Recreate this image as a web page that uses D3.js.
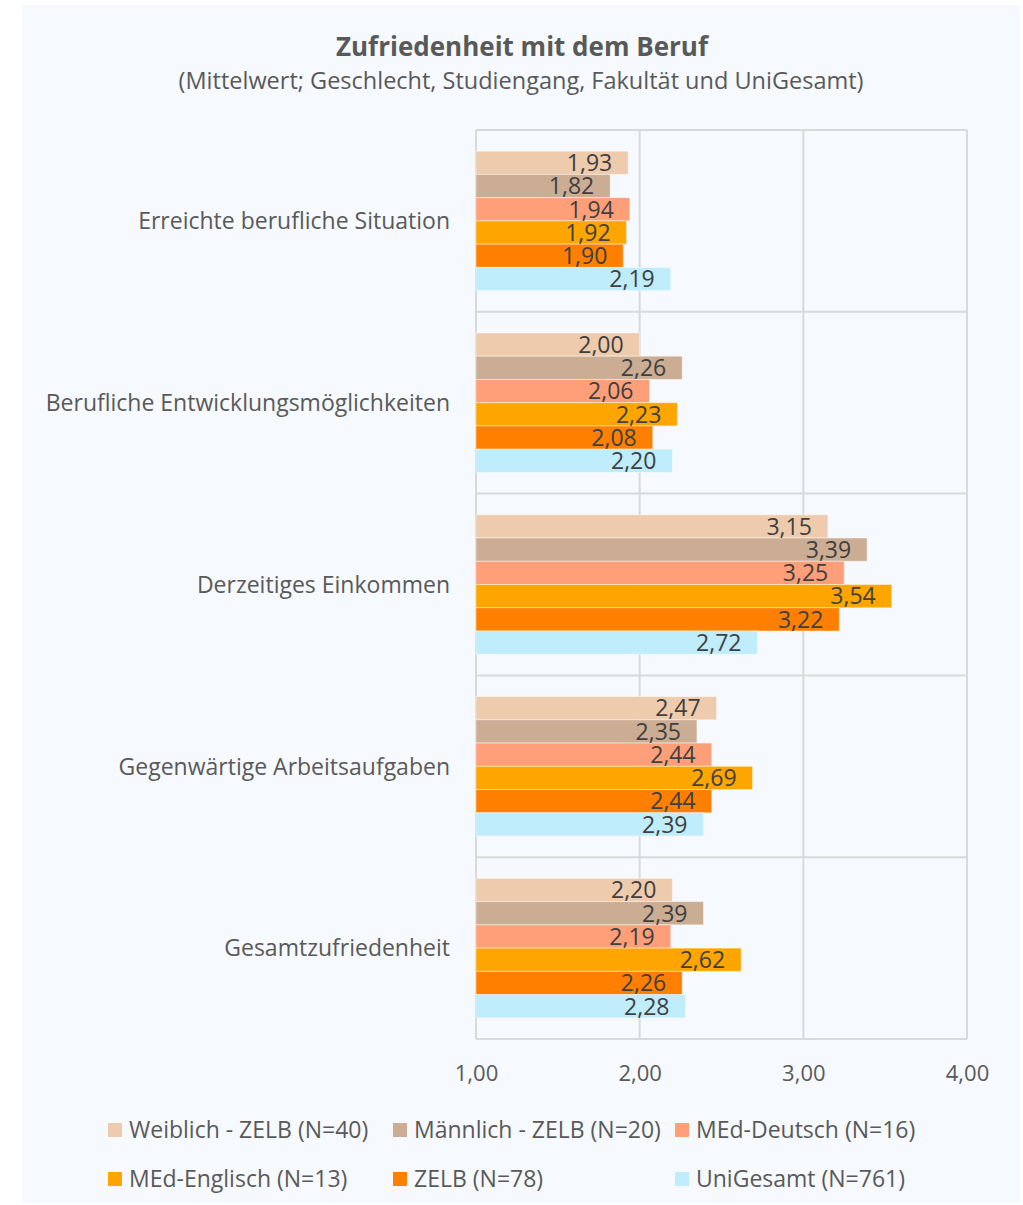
<!DOCTYPE html>
<html>
<head>
<meta charset="utf-8">
<script src="https://cdn.jsdelivr.net/npm/d3@7"></script>
<style>
  html, body { margin: 0; padding: 0; background: #ffffff; }
  svg text { font-family: "Open Sans", "Noto Sans", sans-serif; }
</style>
</head>
<body>
<svg id="chart" width="1023" height="1205"></svg>
<script>
// Survey categories (top to bottom)
const categories = [
  "Erreichte berufliche Situation",
  "Berufliche Entwicklungsmöglichkeiten",
  "Derzeitiges Einkommen",
  "Gegenwärtige Arbeitsaufgaben",
  "Gesamtzufriedenheit"
];

// Group names as shown in the legend
const seriesNames = [
  "Weiblich - ZELB (N=40)",
  "Männlich - ZELB (N=20)",
  "MEd-Deutsch (N=16)",
  "MEd-Englisch (N=13)",
  "ZELB (N=78)",
  "UniGesamt (N=761)"
];

// Mean values per group, one entry per category
const weiblich    = [1.93, 2.00, 3.15, 2.47, 2.20];
const maennlich   = [1.82, 2.26, 3.39, 2.35, 2.39];
const medDeutsch  = [1.94, 2.06, 3.25, 2.44, 2.19];
const medEnglisch = [1.92, 2.23, 3.54, 2.69, 2.62];
const zelb        = [1.90, 2.08, 3.22, 2.44, 2.26];
const uniGesamt   = [2.19, 2.20, 2.72, 2.39, 2.28];

const seriesValues = [weiblich, maennlich, medDeutsch, medEnglisch, zelb, uniGesamt];
const seriesColors = ["#eecbad", "#cbad94", "#ff9f79", "#ffa500", "#ff7f00", "#bfedfb"];

// Axis ticks
const tickValues = [1, 2, 3, 4];
const tickLabels = ["1,00", "2,00", "3,00", "4,00"];

const svg = d3.select("#chart");
const textColor = "#595959";
const gridColor = "#d9d9d9";
const fontSize = 23;

// Chart background panel
svg.append("rect")
  .attr("x", 22).attr("y", 5)
  .attr("width", 998).attr("height", 1198)
  .attr("fill", "#f6f9fd");

// Title and subtitle
svg.append("text")
  .attr("x", 522).attr("y", 56)
  .attr("text-anchor", "middle")
  .attr("font-size", 26).attr("font-weight", "bold")
  .attr("fill", textColor)
  .text("Zufriedenheit mit dem Beruf");
svg.append("text")
  .attr("x", 521).attr("y", 89)
  .attr("text-anchor", "middle")
  .attr("font-size", 23.5)
  .attr("fill", textColor)
  .text("(Mittelwert; Geschlecht, Studiengang, Fakultät und UniGesamt)");

// Scales
const plotTop = 130, plotBottom = 1039;
const x = d3.scaleLinear().domain([1, 4]).range([476, 967]);
const y = d3.scaleBand().domain(categories).range([plotTop, plotBottom]).padding(0);
const yInner = d3.scaleBand()
  .domain(d3.range(seriesNames.length))
  .range([0, y.bandwidth()])
  .paddingOuter(0.91)
  .paddingInner(0);

// Gridlines: vertical at ticks, horizontal at category boundaries
const grid = svg.append("g");
grid.selectAll("line.v")
  .data(tickValues)
  .join("line")
  .attr("class", "v")
  .attr("x1", d => x(d)).attr("x2", d => x(d))
  .attr("y1", plotTop).attr("y2", plotBottom)
  .attr("stroke", gridColor).attr("stroke-width", 2);
const boundaries = categories.map(c => y(c)).concat([plotBottom]);
grid.selectAll("line.h")
  .data(boundaries)
  .join("line")
  .attr("class", "h")
  .attr("x1", x(1)).attr("x2", x(4))
  .attr("y1", d => d).attr("y2", d => d)
  .attr("stroke", gridColor).attr("stroke-width", 2);

// Bars
const fmt = v => d3.format(".2f")(v).replace(".", ",");
const rows = [];
categories.forEach((c, ci) => {
  seriesValues.forEach((vals, si) => {
    rows.push({ cat: c, si, value: vals[ci] });
  });
});

const bars = svg.append("g");
bars.selectAll("rect")
  .data(rows)
  .join("rect")
  .attr("x", x(1))
  .attr("y", d => y(d.cat) + yInner(d.si))
  .attr("width", d => x(d.value) - x(1))
  .attr("height", yInner.bandwidth())
  .attr("fill", d => seriesColors[d.si])
  .attr("stroke", "#ffffff").attr("stroke-opacity", 0.45).attr("stroke-width", 1);

// Value labels inside the bar end
svg.append("g").selectAll("text")
  .data(rows)
  .join("text")
  .attr("x", d => x(d.value) - 16)
  .attr("y", d => y(d.cat) + yInner(d.si) + yInner.bandwidth() / 2)
  .attr("dy", "0.36em")
  .attr("text-anchor", "end")
  .attr("font-size", fontSize)
  .attr("fill", "#404040")
  .text(d => fmt(d.value));

// Category labels
svg.append("g").selectAll("text")
  .data(categories)
  .join("text")
  .attr("x", 450)
  .attr("y", d => y(d) + y.bandwidth() / 2)
  .attr("dy", "0.36em")
  .attr("text-anchor", "end")
  .attr("font-size", fontSize)
  .attr("fill", textColor)
  .text(d => d);

// X axis tick labels
const xAxis = d3.axisBottom(x)
  .tickValues(tickValues)
  .tickFormat((d, i) => tickLabels[i])
  .tickSize(0)
  .tickPadding(0);
const axisG = svg.append("g")
  .attr("transform", `translate(0, 1065)`)
  .call(xAxis);
axisG.select(".domain").remove();
axisG.selectAll("text")
  .attr("font-size", 22)
  .attr("fill", textColor)
  .attr("font-family", "Open Sans, Noto Sans, sans-serif");

// Legend (two rows of three)
const legendPos = [
  [108, 1130], [393, 1130], [675, 1130],
  [108, 1179], [393, 1179], [675, 1179]
];
const legend = svg.append("g").selectAll("g")
  .data(seriesNames)
  .join("g")
  .attr("transform", (d, i) => `translate(${legendPos[i][0]}, ${legendPos[i][1]})`);
legend.append("rect")
  .attr("x", 0).attr("y", -7)
  .attr("width", 14).attr("height", 14)
  .attr("fill", (d, i) => seriesColors[i]);
legend.append("text")
  .attr("x", 21).attr("y", 0)
  .attr("dy", "0.36em")
  .attr("font-size", fontSize)
  .attr("fill", textColor)
  .text(d => d);
</script>
</body>
</html>
